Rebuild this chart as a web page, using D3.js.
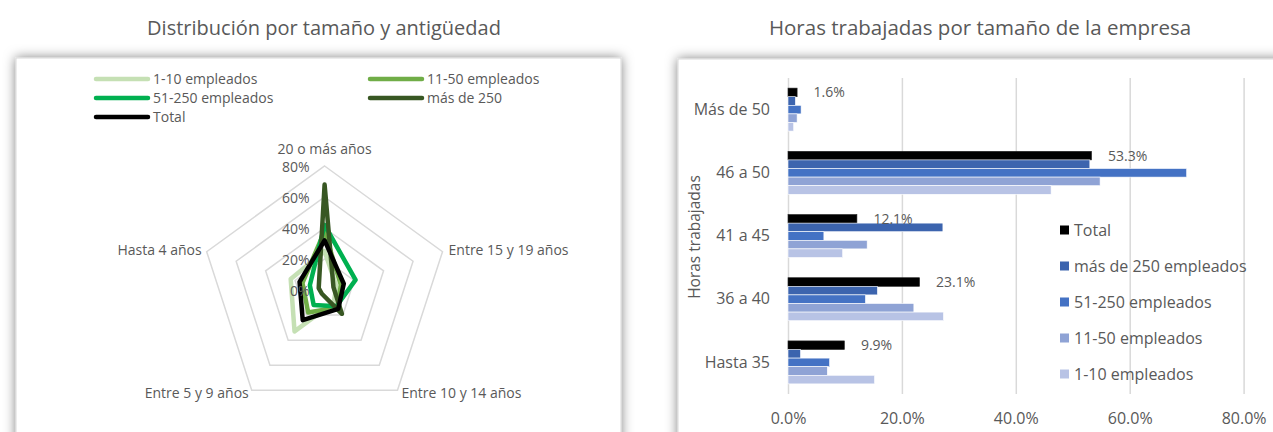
<!DOCTYPE html>
<html>
<head>
<meta charset="utf-8">
<script src="https://cdn.jsdelivr.net/npm/d3@7"></script>
<style>
    body { margin: 0; background: #fff; }
    svg { display: block; font-family: "Open Sans", sans-serif; }
</style>
</head>
<body>
<svg id="chart" width="1273" height="432"></svg>
<script>
"use strict";

// Radar: distribution by company size and age
const ageAxes = ["20 o más años", "Entre 15 y 19 años", "Entre 10 y 14 años", "Entre 5 y 9 años", "Hasta 4 años"];
const radarSeries = ["1-10 empleados", "11-50 empleados", "51-250 empleados", "más de 250", "Total"];
const radar1to10 = [25, 8, 10, 33, 23];
const radar11to50 = [38, 11, 14, 18, 15];
const radar51to250 = [42, 21, 13, 12, 10];
const radarOver250 = [68, 6, 19, 3, 4];
const radarTotal = [32, 13, 15, 24, 17];
const radarTicks = [0, 20, 40, 60, 80];

// Bars: hours worked by company size
const hoursCategories = ["Hasta 35", "36 a 40", "41 a 45", "46 a 50", "Más de 50"];
const hoursSeries = ["Total", "más de 250 empleados", "51-250 empleados", "11-50 empleados", "1-10 empleados"];
const hoursTotal = [9.9, 23.1, 12.1, 53.3, 1.6];
const hoursOver250 = [2.2, 15.7, 27.2, 53.0, 1.3];
const hours51to250 = [7.3, 13.6, 6.3, 70.0, 2.3];
const hours11to50 = [6.9, 22.1, 13.9, 54.8, 1.6];
const hours1to10 = [15.2, 27.3, 9.6, 46.2, 1.0];
const hoursTicks = [0, 20, 40, 60, 80];

const TEXT = "#595959";
const GRID = "#d9d9d9";
const RADAR_COLORS = ["#c5e0b4", "#70ad47", "#00b050", "#385723", "#000000"];
const BAR_COLORS = ["#000000", "#3c64ae", "#4472c4", "#8fa3d5", "#b8c3e5"];

const svg = d3.select("#chart");

const defs = svg.append("defs");
const glow = defs.append("filter").attr("id", "glow")
    .attr("x", "-10%").attr("y", "-10%").attr("width", "120%").attr("height", "120%");
glow.append("feDropShadow")
    .attr("dx", 0).attr("dy", 0)
    .attr("stdDeviation", 6)
    .attr("flood-color", "#000")
    .attr("flood-opacity", 0.5);

// panels
const panel = (x0, y0, w, h) => svg.append("rect")
    .attr("x", x0).attr("y", y0).attr("width", w).attr("height", h)
    .attr("fill", "#fff").attr("stroke", GRID)
    .attr("filter", "url(#glow)");
panel(16, 58, 605, 420);
panel(678, 59, 640, 420);

// titles
svg.append("text").attr("x", 324).attr("y", 28).attr("dy", "0.35em")
    .attr("text-anchor", "middle").attr("font-size", 20).attr("fill", TEXT)
    .text("Distribución por tamaño y antigüedad");
svg.append("text").attr("x", 980).attr("y", 28).attr("dy", "0.35em")
    .attr("text-anchor", "middle").attr("font-size", 20.5).attr("fill", TEXT)
    .text("Horas trabajadas por tamaño de la empresa");

// ---------- radar ----------
const drawRadar = () => {
    const cx = 324.6;
    const cy = 290;
    const r = d3.scaleLinear().domain([0, 80]).range([0, 124]);
    const angle = d3.scaleLinear().domain([0, ageAxes.length]).range([0, 2 * Math.PI]);
    const g = svg.append("g").attr("transform", `translate(${cx},${cy})`);

    const grid = d3.lineRadial()
        .angle((d, i) => angle(i))
        .radius((d) => r(d))
        .curve(d3.curveLinearClosed);
    radarTicks.slice(1).forEach((t) => {
        g.append("path")
            .datum(ageAxes.map(() => t))
            .attr("d", grid)
            .attr("fill", "none")
            .attr("stroke", GRID)
            .attr("stroke-width", 1.5);
    });

    // category labels
    ageAxes.forEach((name, i) => {
        const a = angle(i);
        const px = Math.sin(a) * r(80);
        const py = -Math.cos(a) * r(80);
        let anchor = "middle";
        let ox = 0;
        let oy = 0;
        if (i === 0) { oy = -17; }
        if (i === 1) { anchor = "start"; ox = 6; oy = -2; }
        if (i === 2) { anchor = "start"; ox = 4; oy = 3; }
        if (i === 3) { anchor = "end"; ox = -3; oy = 3; }
        if (i === 4) { anchor = "end"; ox = -5; oy = -2; }
        g.append("text")
            .attr("x", px + ox).attr("y", py + oy).attr("dy", "0.35em")
            .attr("text-anchor", anchor)
            .attr("font-size", 14).attr("fill", TEXT)
            .text(name);
    });

    const seriesData = [radar1to10, radar11to50, radar51to250, radarOver250, radarTotal];
    const line = d3.lineRadial()
        .angle((d, i) => angle(i))
        .radius((d) => r(d))
        .curve(d3.curveLinearClosed);
    seriesData.forEach((vals, k) => {
        g.append("path")
            .datum(vals)
            .attr("d", line)
            .attr("fill", "none")
            .attr("stroke", RADAR_COLORS[k])
            .attr("stroke-width", 4.5)
            .attr("stroke-linejoin", "round");
    });

    // value ticks, drawn on top like the original
    radarTicks.forEach((t) => {
        g.append("text")
            .attr("x", -15).attr("y", -r(t) + 1).attr("dy", "0.35em")
            .attr("text-anchor", "end")
            .attr("font-size", 14).attr("fill", TEXT)
            .text(`${t}%`);
    });

    // legend
    const legendPos = [[96, 79], [370, 79], [96, 98], [370, 98], [96, 117]];
    radarSeries.forEach((name, k) => {
        const [lx, ly] = legendPos[k];
        svg.append("line")
            .attr("x1", lx).attr("x2", lx + 52)
            .attr("y1", ly).attr("y2", ly)
            .attr("stroke", RADAR_COLORS[k])
            .attr("stroke-width", 4.5)
            .attr("stroke-linecap", "round");
        svg.append("text")
            .attr("x", lx + 57).attr("y", ly).attr("dy", "0.35em")
            .attr("font-size", 14).attr("fill", TEXT)
            .text(name);
    });
};

// ---------- bars ----------
const drawBars = () => {
    const x = d3.scaleLinear().domain([0, 80]).range([788, 1243.6]);
    const y = d3.scaleBand()
        .domain(hoursCategories.slice().reverse())
        .range([78, 394])
        .paddingInner(0.32)
        .paddingOuter(0.16);
    const ySub = d3.scaleBand().domain(hoursSeries).range([0, y.bandwidth()]);

    // gridlines
    svg.append("g")
        .attr("transform", "translate(0,78)")
        .call(d3.axisBottom(x).tickValues(hoursTicks).tickSize(316).tickFormat(""))
        .call((g) => g.select(".domain").remove())
        .call((g) => g.selectAll("line").attr("stroke", GRID).attr("stroke-width", 1.5));

    // x tick labels
    svg.append("g")
        .attr("transform", "translate(0,394)")
        .call(d3.axisBottom(x).tickValues(hoursTicks).tickSize(0).tickPadding(19)
            .tickFormat((d) => `${d.toFixed(1)}%`))
        .call((g) => g.select(".domain").remove())
        .call((g) => g.selectAll("text").attr("font-size", 16).attr("fill", TEXT)
            .attr("font-family", "Open Sans"));

    // y tick labels
    svg.append("g")
        .attr("transform", "translate(788,0)")
        .call(d3.axisLeft(y).tickSize(0).tickPadding(18))
        .call((g) => g.select(".domain").remove())
        .call((g) => g.selectAll("text").attr("font-size", 16).attr("fill", TEXT)
            .attr("font-family", "Open Sans"));

    svg.append("text")
        .attr("transform", "translate(695,237) rotate(-90)")
        .attr("dy", "0.35em")
        .attr("text-anchor", "middle")
        .attr("font-size", 15.5).attr("fill", TEXT)
        .text("Horas trabajadas");

    const seriesData = [hoursTotal, hoursOver250, hours51to250, hours11to50, hours1to10];
    seriesData.forEach((vals, k) => {
        svg.append("g").selectAll("rect")
            .data(vals)
            .join("rect")
            .attr("x", x(0))
            .attr("y", (d, i) => y(hoursCategories[i]) + ySub(hoursSeries[k]))
            .attr("width", (d) => x(d) - x(0))
            .attr("height", ySub.bandwidth())
            .attr("fill", BAR_COLORS[k])
            .attr("stroke", k === 0 ? "#222" : "#fff")
            .attr("stroke-width", 0.6);
    });

    // data labels for Total
    svg.append("g").selectAll("text")
        .data(hoursTotal)
        .join("text")
        .attr("x", (d) => x(d) + 16.5)
        .attr("y", (d, i) => y(hoursCategories[i]) + ySub("Total") + ySub.bandwidth() / 2)
        .attr("dy", "0.35em")
        .attr("font-size", 14).attr("fill", TEXT)
        .text((d) => `${d.toFixed(1)}%`);

    // legend
    const legendY = d3.scalePoint().domain(hoursSeries).range([230, 374]);
    hoursSeries.forEach((name, k) => {
        svg.append("rect")
            .attr("x", 1060).attr("y", legendY(name) - 4.5)
            .attr("width", 9).attr("height", 9)
            .attr("fill", BAR_COLORS[k]);
        svg.append("text")
            .attr("x", 1074).attr("y", legendY(name)).attr("dy", "0.35em")
            .attr("font-size", 16).attr("fill", TEXT)
            .text(name);
    });
};

drawRadar();
drawBars();
</script>
</body>
</html>
